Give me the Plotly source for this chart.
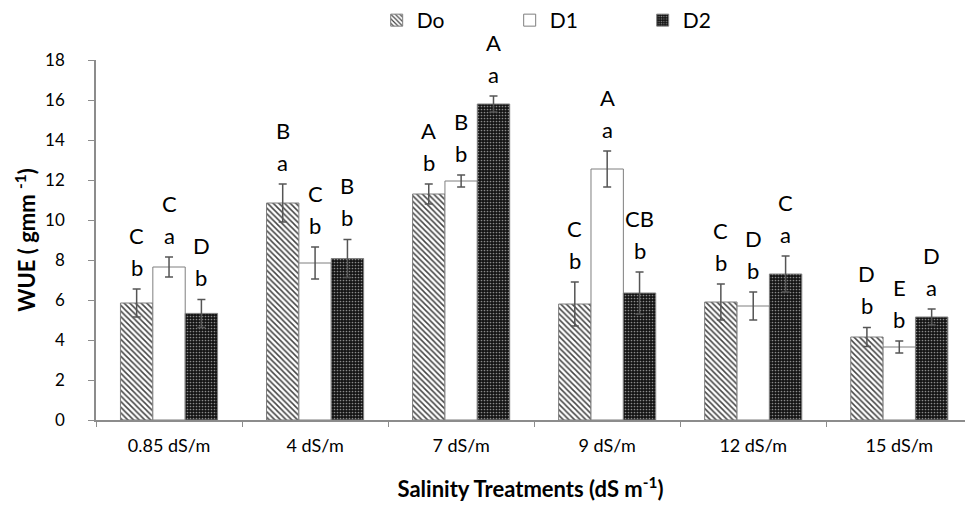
import plotly.graph_objects as go

categories = ["0.85 dS/m", "4 dS/m", "7 dS/m", "9 dS/m", "12 dS/m", "15 dS/m"]
series_names = ["Do", "D1", "D2"]

do_vals = [5.85, 10.85, 11.3, 5.8, 5.9, 4.15]
d1_vals = [7.65, 7.85, 11.95, 12.55, 5.7, 3.65]
d2_vals = [5.33, 8.07, 15.8, 6.35, 7.3, 5.15]

do_err = [0.7, 0.95, 0.5, 1.1, 0.9, 0.47]
d1_err = [0.5, 0.8, 0.3, 0.9, 0.7, 0.3]
d2_err = [0.7, 0.95, 0.4, 1.05, 0.9, 0.4]

do_upper = ["C", "B", "A", "C", "C", "D"]
d1_upper = ["C", "C", "B", "A", "D", "E"]
d2_upper = ["D", "B", "A", "CB", "C", "D"]
do_lower = ["b", "a", "b", "b", "b", "b"]
d1_lower = ["a", "b", "b", "a", "b", "b"]
d2_lower = ["b", "b", "a", "b", "a", "a"]

FONT = "Lato"
BARGAP = 0.335

vals = [do_vals, d1_vals, d2_vals]
errs = [do_err, d1_err, d2_err]
uppers = [do_upper, d1_upper, d2_upper]
lowers = [do_lower, d1_lower, d2_lower]

patterns = [
    dict(shape="\\", fgcolor="#444444", bgcolor="white", size=4, solidity=0.38, fillmode="replace"),
    dict(shape="", bgcolor="white"),
    dict(shape=".", fgcolor="#8a8a8a", bgcolor="#141414", size=3, solidity=0.25, fillmode="replace"),
]

fig = go.Figure()
for name, v, e, pat in zip(series_names, vals, errs, patterns):
    fig.add_trace(go.Bar(
        x=categories, y=v, name=name,
        marker=dict(color="white", pattern=pat, line=dict(color="#7f7f7f", width=1)),
        error_y=dict(type="data", array=e, visible=True, color="#555555", thickness=1.5, width=4),
    ))

bw = (1 - BARGAP) / 3
annotations = []
for j in range(3):
    for i in range(len(categories)):
        xpos = i + (j - 1) * bw
        ytop = vals[j][i] + errs[j][i]
        annotations.append(dict(x=xpos, y=ytop, xref="x", yref="y", text=lowers[j][i],
                                showarrow=False, yanchor="middle", yshift=22,
                                font=dict(family=FONT, size=22, color="black")))
        annotations.append(dict(x=xpos, y=ytop, xref="x", yref="y", text=uppers[j][i],
                                showarrow=False, yanchor="middle", yshift=54,
                                font=dict(family=FONT, size=22, color="black")))

fig.update_layout(
    width=965, height=509,
    margin=dict(l=96, r=0, t=58, b=89),
    paper_bgcolor="white", plot_bgcolor="white",
    barmode="group", bargap=BARGAP, bargroupgap=0,
    font=dict(family=FONT, color="black"),
    showlegend=True,
    legend=dict(orientation="h", x=0.323, xanchor="left", y=1.11, yanchor="middle",
                font=dict(family=FONT, size=21, color="black"),
                entrywidth=88, entrywidthmode="pixels", itemwidth=30),
    annotations=annotations,
)
fig.update_xaxes(
    range=[-0.5, 5.45],
    showline=True, linecolor="#8c8c8c", linewidth=1.5,
    ticks="outside", tickson="boundaries", ticklen=5, tickcolor="#8c8c8c",
    tickfont=dict(family=FONT, size=18, color="black"), ticklabelstandoff=9,
    showgrid=False,
    title=dict(text="<b>Salinity Treatments (dS m<sup>-1</sup>)</b>",
               font=dict(family=FONT, size=22, color="black"), standoff=26),
)
fig.update_yaxes(
    range=[0, 18], dtick=2,
    showline=True, linecolor="#8c8c8c", linewidth=1.5,
    ticks="outside", ticklen=6, tickcolor="#8c8c8c",
    tickfont=dict(family=FONT, size=17, color="black"), ticklabelstandoff=20,
    showgrid=False, zeroline=False,
    title=dict(text="<b>WUE ( gmm <sup>-1</sup>)</b>",
               font=dict(family=FONT, size=22, color="black"), standoff=3),
)

fig.write_html("out.html")
